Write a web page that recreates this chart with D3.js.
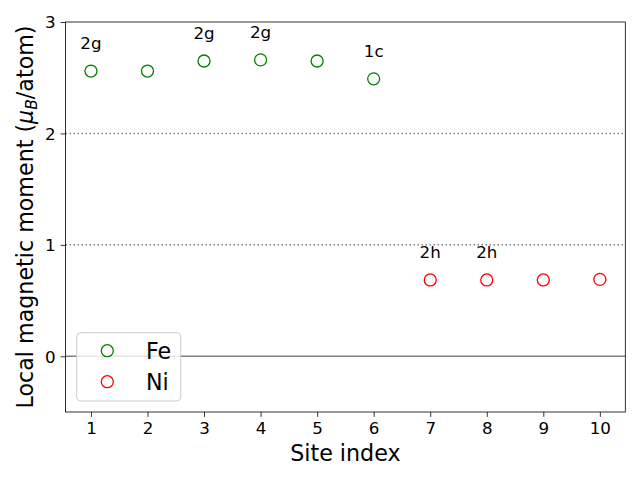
<!DOCTYPE html>
<html>
<head>
<meta charset="utf-8">
<script src="https://cdn.jsdelivr.net/npm/d3@7"></script>
<style>
  html, body { margin: 0; padding: 0; background: #fff; }
  svg { display: block; font-family: "DejaVu Sans", sans-serif; }
</style>
</head>
<body>
<svg id="chart" width="640" height="480"></svg>
<script>
// ---- data ----
const feSites = [1, 2, 3, 4, 5, 6];
const feValues = [2.56, 2.56, 2.65, 2.66, 2.65, 2.49];
const niSites = [7, 8, 9, 10];
const niValues = [0.685, 0.685, 0.685, 0.69];
const labelSites = [1, 3, 4, 6, 7, 8];
const labelTexts = ["2g", "2g", "2g", "1c", "2h", "2h"];
const labelValues = [2.56, 2.65, 2.66, 2.49, 0.685, 0.685];
const xTicks = [1, 2, 3, 4, 5, 6, 7, 8, 9, 10];
const yTicks = [0, 1, 2, 3];
const refLines = [1, 2];
const seriesNames = ["Fe", "Ni"];
const seriesColors = ["green", "red"];

// ---- layout ----
const W = 640, H = 480;
const L = 65.5, R = 625.3, T = 22, B = 412;
const svg = d3.select("#chart");

const x = d3.scaleLinear().domain([0.55, 10.45]).range([L, R]);
const y = d3.scaleLinear().domain([-0.5, 3]).range([B, T]);

// reference lines
svg.append("g").selectAll("line").data(refLines).join("line")
  .attr("x1", L).attr("x2", R)
  .attr("y1", d => y(d)).attr("y2", d => y(d))
  .attr("stroke", "#808080").attr("stroke-width", 1.5)
  .attr("stroke-dasharray", "1.5,2.5");

svg.append("line")
  .attr("x1", L).attr("x2", R).attr("y1", y(0)).attr("y2", y(0))
  .attr("stroke", "#808080").attr("stroke-width", 1.5);

// points
const fe = feSites.map((s, i) => ({ s, v: feValues[i] }));
const ni = niSites.map((s, i) => ({ s, v: niValues[i] }));
[fe, ni].forEach((data, k) => {
  svg.append("g").selectAll("circle").data(data).join("circle")
    .attr("cx", d => x(d.s)).attr("cy", d => y(d.v)).attr("r", 6)
    .attr("fill", "none").attr("stroke", seriesColors[k]).attr("stroke-width", 1.3);
});

// site labels
svg.append("g").selectAll("text").data(labelSites.map((s, i) => ({ s, t: labelTexts[i], v: labelValues[i] })))
  .join("text")
  .attr("x", d => x(d.s)).attr("y", d => y(d.v + 0.2))
  .attr("text-anchor", "middle").attr("font-size", "16.7px").attr("fill", "#000")
  .text(d => d.t);

// axes
const xAxis = d3.axisBottom(x).tickValues(xTicks).tickSize(4.9).tickPadding(4.9).tickFormat(d3.format("d"));
const yAxis = d3.axisLeft(y).tickValues(yTicks).tickSize(4.9).tickPadding(4.9).tickFormat(d3.format("d"));
const gx = svg.append("g").attr("transform", `translate(0,${B})`).call(xAxis);
const gy = svg.append("g").attr("transform", `translate(${L},0)`).call(yAxis);
[gx, gy].forEach(g => {
  g.select(".domain").remove();
  g.selectAll(".tick line").attr("stroke", "#000").attr("stroke-width", 0.8);
  g.selectAll(".tick text").attr("font-size", "16.7px").attr("fill", "#000")
    .attr("font-family", "DejaVu Sans");
});
gy.selectAll(".tick text").attr("dy", "0.35em");

// frame
svg.append("rect").attr("x", L).attr("y", T).attr("width", R - L).attr("height", B - T)
  .attr("fill", "none").attr("stroke", "#000").attr("stroke-width", 0.8);

// axis labels
svg.append("text").attr("x", (L + R) / 2).attr("y", 461)
  .attr("text-anchor", "middle").attr("font-size", "22.2px").text("Site index");

const yl = svg.append("text")
  .attr("transform", `translate(32.5,${(T + B) / 2}) rotate(-90)`)
  .attr("text-anchor", "middle").attr("font-size", "22.2px");
yl.append("tspan").text("Local magnetic moment (");
yl.append("tspan").attr("font-style", "italic").text("μ");
yl.append("tspan").attr("font-style", "italic").attr("font-size", "15.5px").attr("dy", "4").text("B");
yl.append("tspan").attr("dy", "-4").text("/atom)");

// legend
const lg = svg.append("g");
lg.append("rect").attr("x", 76.7).attr("y", 332.7).attr("width", 104).attr("height", 68.3)
  .attr("rx", 4).attr("fill", "#fff").attr("fill-opacity", 0.8)
  .attr("stroke", "#cccccc").attr("stroke-width", 1);
seriesNames.forEach((n, i) => {
  const cy = 350.7 + i * 31;
  lg.append("circle").attr("cx", 107.3).attr("cy", cy).attr("r", 6)
    .attr("fill", "none").attr("stroke", seriesColors[i]).attr("stroke-width", 1.3);
  lg.append("text").attr("x", 146).attr("y", cy + 7.8).attr("font-size", "22.2px")
    .attr("fill", "#000").text(n);
});
</script>
</body>
</html>
